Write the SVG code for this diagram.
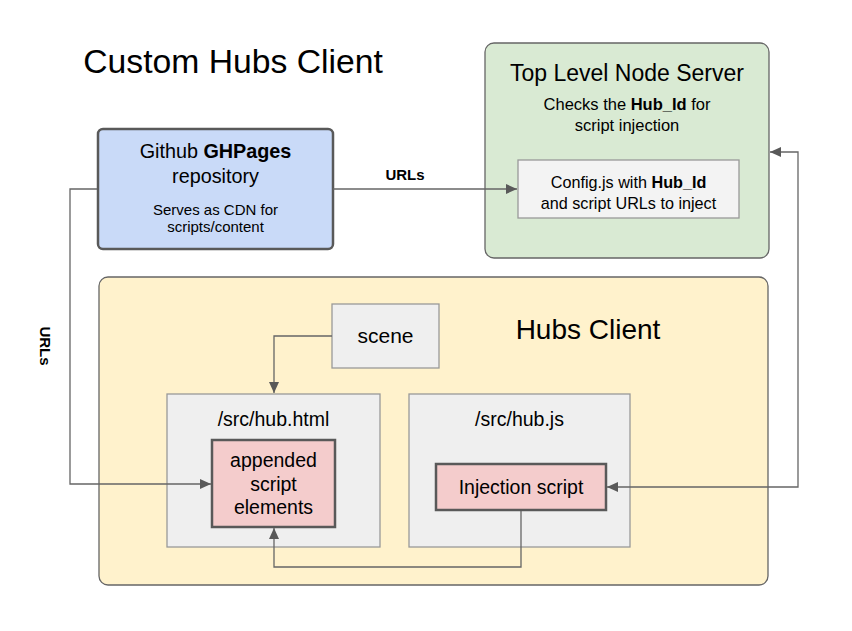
<svg xmlns="http://www.w3.org/2000/svg" width="852" height="631" viewBox="0 0 852 631">
<style>
text{font-family:"Liberation Sans",Arial,sans-serif;fill:#000;text-anchor:middle}
.b{font-weight:bold}
.conn{fill:none;stroke:#666;stroke-width:1.3}
.grey{fill:#efefef;stroke:#999;stroke-width:1.3}
.pink{fill:#f4cccc;stroke:#595959;stroke-width:2.5}
</style>
<defs>
<marker id="ah" markerUnits="userSpaceOnUse" markerWidth="12" markerHeight="10" refX="11" refY="5" orient="auto-start-reverse">
<path d="M0,0 L11,5 L0,10 Z" fill="#595959"/>
</marker>
</defs>
<rect width="852" height="631" fill="#fff"/>
<text x="233" y="73" font-size="33.7">Custom Hubs Client</text>
<g id="hubs-client">
<rect x="99" y="277" width="669" height="308" rx="9" fill="#fff2cc" stroke="#666" stroke-width="1.3"/>
<text x="588" y="339" font-size="28">Hubs Client</text>
</g>
<g id="node-server">
<rect x="485" y="43" width="284" height="215" rx="9" fill="#d9ead3" stroke="#666" stroke-width="1.3"/>
<text x="627" y="81" font-size="23">Top Level Node Server</text>
<text x="627" y="110" font-size="16.5">Checks the <tspan class="b">Hub_Id</tspan> for</text>
<text x="627" y="131" font-size="16.5">script injection</text>
</g>
<g id="config">
<rect x="518" y="160" width="221" height="58" fill="#f3f3f3" stroke="#999" stroke-width="1.3"/>
<text x="628.5" y="188" font-size="16.2">Config.js with <tspan class="b">Hub_Id</tspan></text>
<text x="628.5" y="209" font-size="16.2">and script URLs to inject</text>
</g>
<g id="github">
<rect x="98" y="129" width="235" height="120" rx="5" fill="#c9daf8" stroke="#595959" stroke-width="2.5"/>
<text x="215.5" y="158" font-size="19.8">Github <tspan class="b">GHPages</tspan></text>
<text x="215.5" y="183" font-size="19.8">repository</text>
<text x="215.5" y="215" font-size="15">Serves as CDN for</text>
<text x="215.5" y="232" font-size="15">scripts/content</text>
</g>
<g id="scene">
<rect x="332" y="304" width="107" height="64" class="grey"/>
<text x="385.5" y="343" font-size="21">scene</text>
</g>
<g id="hub-html">
<rect x="167" y="394" width="213" height="153" class="grey"/>
<text x="273.5" y="426" font-size="19.5">/src/hub.html</text>
</g>
<g id="appended">
<rect x="212" y="440" width="123" height="87" class="pink"/>
<text x="273.5" y="467" font-size="19.5">appended</text>
<text x="273.5" y="491" font-size="19.5">script</text>
<text x="273.5" y="514" font-size="19.5">elements</text>
</g>
<g id="hub-js">
<rect x="409" y="394" width="221" height="153" class="grey"/>
<text x="519.5" y="426" font-size="19.5">/src/hub.js</text>
</g>
<g id="injection">
<rect x="436" y="464" width="170" height="46" class="pink"/>
<text x="521" y="494" font-size="19.5">Injection script</text>
</g>
<g id="connectors">
<path class="conn" d="M333,189 H517" marker-end="url(#ah)"/>
<path class="conn" d="M97,189 H70 V484 H211" marker-end="url(#ah)"/>
<path class="conn" d="M332,336 H274 V393" marker-end="url(#ah)"/>
<path class="conn" d="M521,511 V567 H274 V528" marker-end="url(#ah)"/>
<path class="conn" d="M770,152 H798 V487 H607" marker-start="url(#ah)" marker-end="url(#ah)"/>
<text x="405" y="180" font-size="15" class="b">URLs</text>
<text x="0" y="0" font-size="15" class="b" transform="translate(40,346) rotate(90)">URLs</text>
</g>
</svg>
